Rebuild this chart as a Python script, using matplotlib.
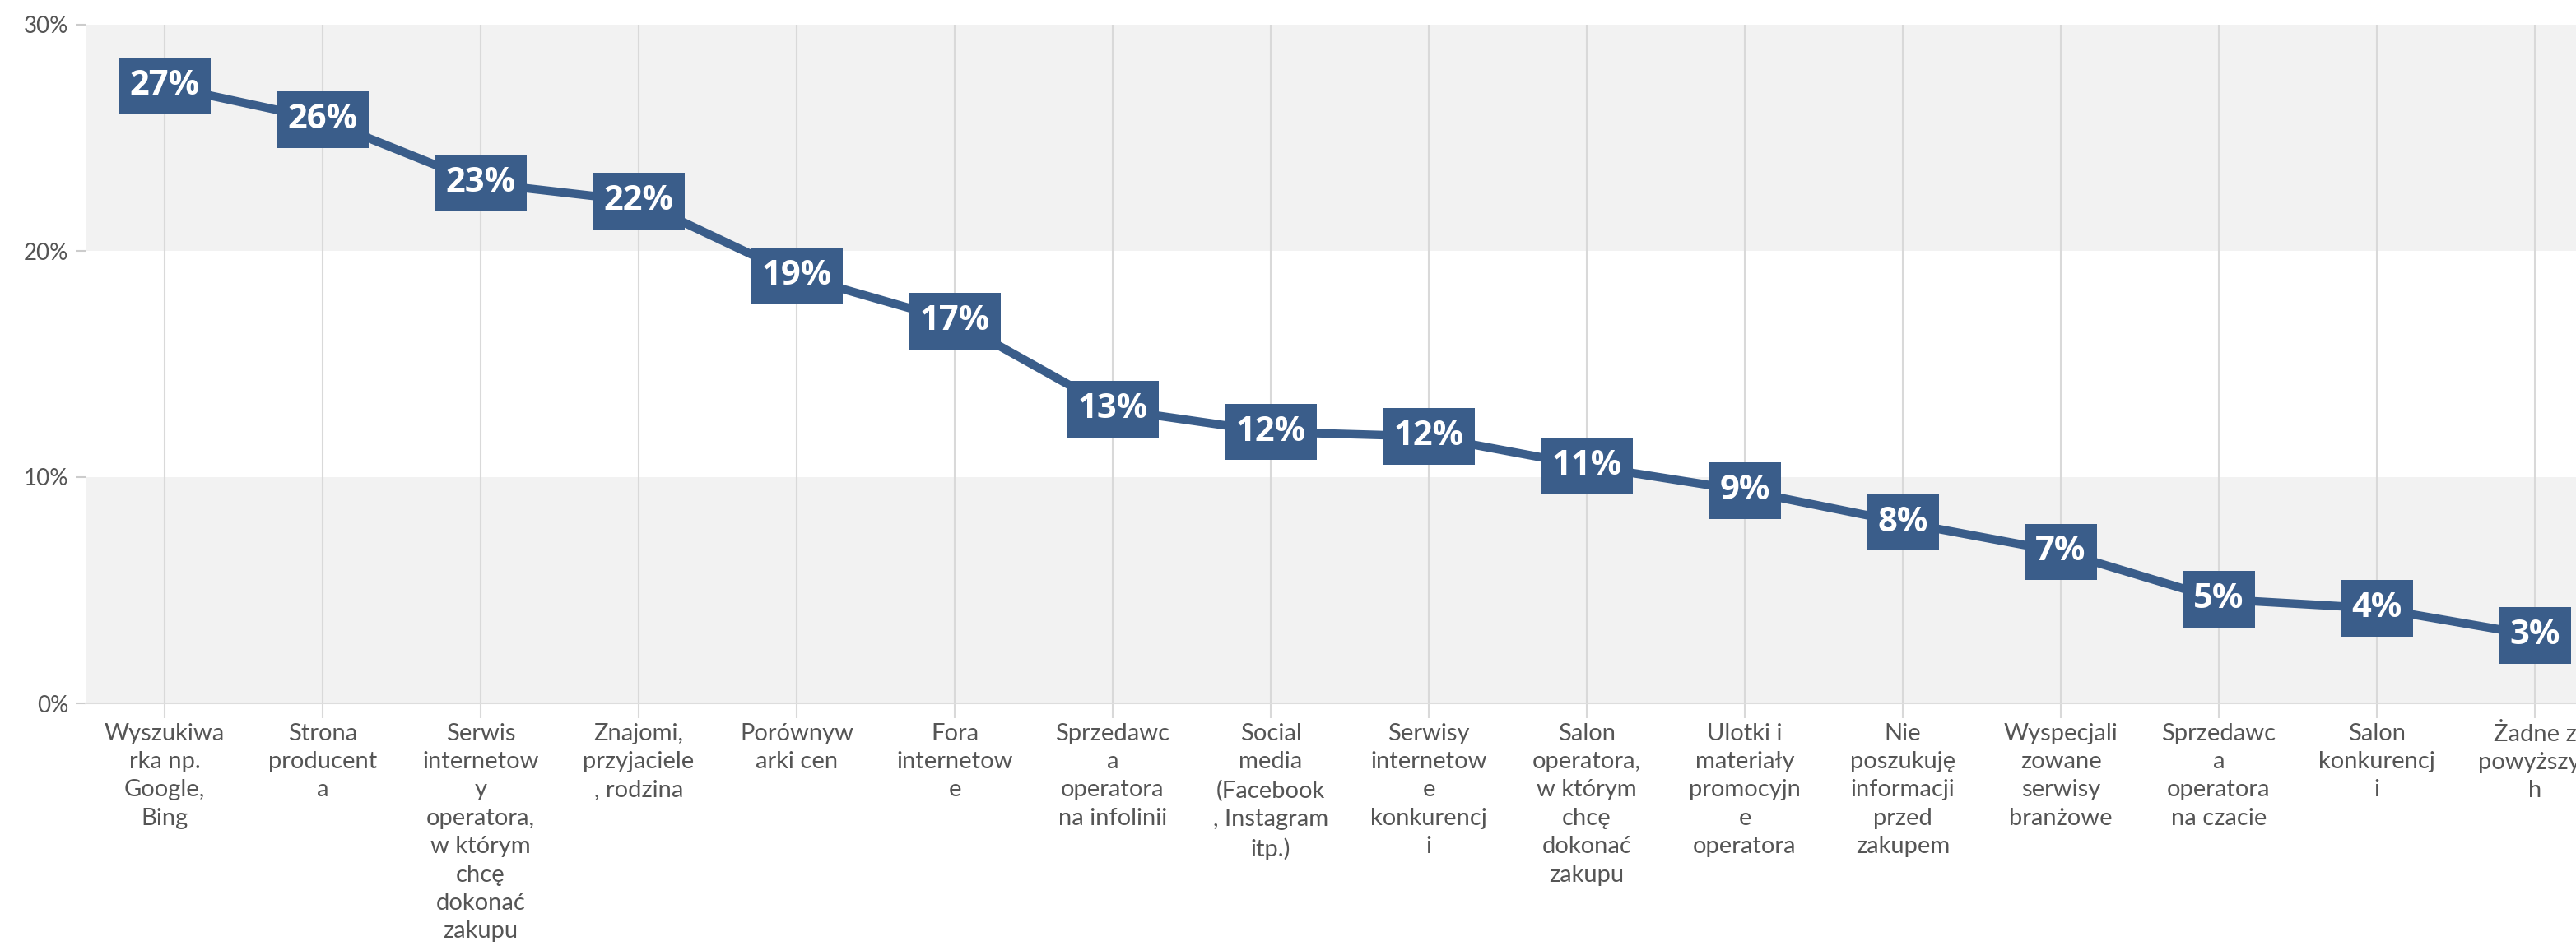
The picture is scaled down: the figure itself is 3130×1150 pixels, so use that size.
import numpy as np
import matplotlib.pyplot as plt

# Categories (wrapped as in the original)
categories = [
    "Wyszukiwa\nrka np.\nGoogle,\nBing",
    "Strona\nproducent\na",
    "Serwis\ninternetow\ny\noperatora,\nw którym\nchcę\ndokonać\nzakupu",
    "Znajomi,\nprzyjaciele\n, rodzina",
    "Porównyw\narki cen",
    "Fora\ninternetow\ne",
    "Sprzedawc\na\noperatora\nna infolinii",
    "Social\nmedia\n(Facebook\n, Instagram\nitp.)",
    "Serwisy\ninternetow\ne\nkonkurencj\ni",
    "Salon\noperatora,\nw którym\nchcę\ndokonać\nzakupu",
    "Ulotki i\nmateriały\npromocyjn\ne\noperatora",
    "Nie\nposzukuję\ninformacji\nprzed\nzakupem",
    "Wyspecjali\nzowane\nserwisy\nbranżowe",
    "Sprzedawc\na\noperatora\nna czacie",
    "Salon\nkonkurencj\ni",
    "Żadne z\npowyższyc\nh",
]

# Share of respondents (%)
values = [27.3, 25.8, 23.0, 22.2, 18.9, 16.9, 13.0, 12.0, 11.8, 10.5, 9.4, 8.0, 6.7, 4.6, 4.2, 3.0]
value_labels = ["27%", "26%", "23%", "22%", "19%", "17%", "13%", "12%", "12%",
                "11%", "9%", "8%", "7%", "5%", "4%", "3%"]

y_ticks = [0, 10, 20, 30]
y_tick_labels = ["0%", "10%", "20%", "30%"]

line_color = "#3a5d8a"
band_color = "#f2f2f2"
grid_color = "#d9d9d9"
text_color = "#555555"

W, H = 3130, 1150
fig = plt.figure(figsize=(W / 100, H / 100), dpi=100)
# plot area runs past the right edge of the picture, like the original
left, right, top, bottom = 104, 104 + 16 * 192, 30, 855
ax = fig.add_axes([left / W, 1 - bottom / H, (right - left) / W, (bottom - top) / H])

x = np.arange(len(categories))
ax.set_xlim(-0.5, len(categories) - 0.5)
ax.set_ylim(0, 30)

# alternating horizontal bands
ax.axhspan(0, 10, color=band_color, zorder=0, lw=0)
ax.axhspan(20, 30, color=band_color, zorder=0, lw=0)

for xi in x:
    ax.axvline(xi, color=grid_color, lw=1.5, zorder=1)

ax.plot(x, values, color=line_color, lw=7.5, zorder=2, solid_capstyle="butt")

for xi, v, lab in zip(x, values, value_labels):
    ax.text(xi, v, lab, ha="center", va="center", color="white",
            fontsize=30, fontweight="bold", family="Open Sans", zorder=3,
            bbox=dict(boxstyle="square,pad=0.33", fc=line_color, ec="none"))

for s in ["top", "right", "left"]:
    ax.spines[s].set_visible(False)
ax.spines["bottom"].set_color("#dddddd")
ax.spines["bottom"].set_linewidth(1.5)

ax.set_yticks(y_ticks)
ax.set_yticklabels(y_tick_labels, family="Lato", fontsize=20, color=text_color)
ax.tick_params(axis="y", length=9, width=1.5, color="#cccccc", pad=6)

ax.set_xticks(x)
ax.set_xticklabels(categories, family="Lato", fontsize=21, color=text_color,
                   linespacing=1.4, va="top")
ax.tick_params(axis="x", length=13, width=1.5, color=grid_color, pad=4)

fig.savefig("out.png", dpi=100)
